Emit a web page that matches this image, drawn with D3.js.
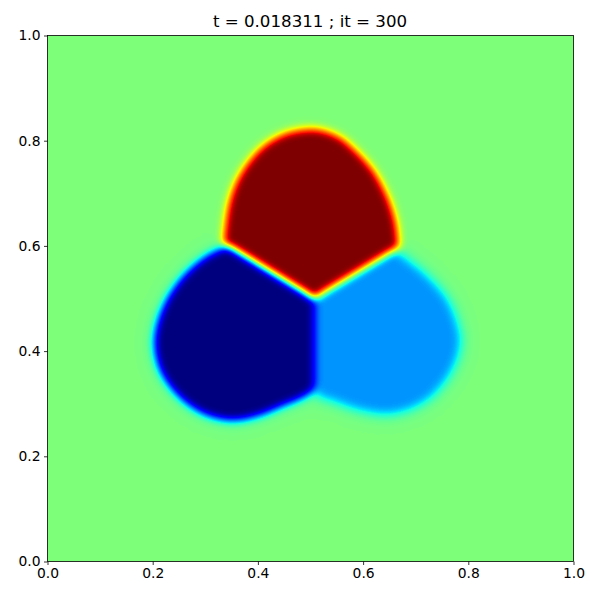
<!DOCTYPE html>
<html><head><meta charset="utf-8">
<script src="https://cdn.jsdelivr.net/npm/d3@7/dist/d3.min.js"></script>
<style>html,body{margin:0;padding:0;background:#fff}svg{display:block}text{font-family:"DejaVu Sans";fill:#000}</style>
</head><body><svg id="c" width="600" height="600"></svg>
<script>
const titleText = "t = 0.018311 ; it = 300";
const tickValues = [0, 0.2, 0.4, 0.6, 0.8, 1.0];
const fieldBackground = 0.5;
const fieldRed = 1.0;
const fieldBlue = 0.0;
const fieldLightBlue = 0.2725;
const haloBlue = 0.40;
const haloRed = 0.60;
const redArc = [[.3340,.6060],[.3352,.6135],[.3384,.642],[.3447,.680],[.3574,.718],[.3796,.756],[.408,.7877],[.443,.810],[.481,.8205],[.519,.8205],[.557,.8056],[.5888,.778],[.6204,.742],[.6470,.6926],[.6616,.648],[.666,.6198],[.6680,.598]];
const redEdge = [[.525,.512],[.5063,.499],[.488,.512]];
const blueArc = [[.3290,.5945],[.2972,.5770],[.2592,.5437],[.2276,.4994],[.2086,.4519],[.2034,.4139],[.2116,.3694],[.2338,.3314],[.2656,.2998],[.3036,.2776],[.3542,.268],[.3987,.2760],[.4493,.2965],[.4937,.3160],[.5075,.3283]];
const blueEdge = [[.5075,.4899],[.5075,.52],[.38,.61]];
const lightBlueArc = [[.6790,.5770],[.7060,.5565],[.7360,.528],[.7610,.4962],[.7770,.4582],[.7850,.4202],[.7770,.3821],[.7567,.3441],[.7281,.3124],[.6901,.2903],[.6521,.2808],[.6141,.2839],[.5760,.2934],[.5413,.3061],[.5158,.3137]];
const lightBlueEdge = [[.47,.40],[.50,.52],[.64,.61]];
// matplotlib "jet" colormap anchors
const jetR = [[0,0],[.35,0],[.66,1],[.89,1],[1,.5]];
const jetG = [[0,0],[.125,0],[.375,1],[.64,1],[.91,0],[1,0]];
const jetB = [[0,.5],[.11,1],[.34,1],[.65,0],[1,0]];

const svg = d3.select("#c");
const x = d3.scaleLinear().domain([0,1]).range([47.5,573.5]);
const y = d3.scaleLinear().domain([0,1]).range([561.5,35.5]);
const gray = v => { const g = Math.round(v*255); return `rgb(${g},${g},${g})`; };
const table = anchors => {
  const s = d3.scaleLinear().domain(anchors.map(a=>a[0])).range(anchors.map(a=>a[1]));
  return d3.range(256).map(i=>s(i/255).toFixed(4)).join(" ");
};
const defs = svg.append("defs");
defs.append("clipPath").attr("id","plot").append("rect")
  .attr("x",x(0)).attr("y",y(1)).attr("width",x(1)-x(0)).attr("height",y(0)-y(1));
const blurFilter = (id, sd) => {
  const flt = defs.append("filter").attr("id",id).attr("filterUnits","userSpaceOnUse")
    .attr("x",0).attr("y",0).attr("width",600).attr("height",600)
    .attr("color-interpolation-filters","sRGB");
  flt.append("feGaussianBlur").attr("stdDeviation",sd).attr("result","b");
  return flt;
};
const f = blurFilter("jetBlur",4);
const ct = f.append("feComponentTransfer").attr("in","b");
ct.append("feFuncR").attr("type","table").attr("tableValues",table(jetR));
ct.append("feFuncG").attr("type","table").attr("tableValues",table(jetG));
ct.append("feFuncB").attr("type","table").attr("tableValues",table(jetB));
blurFilter("soft",2.5);
blurFilter("wide",9);
blurFilter("wideRed",6);

const smooth = d3.line().x(d=>x(d[0])).y(d=>y(d[1])).curve(d3.curveCatmullRom);
const straight = d3.line().x(d=>x(d[0])).y(d=>y(d[1]));
const outline = (arc, edge) => smooth(arc) + "L" + straight(edge).slice(1) + "Z";
const clip = svg.append("g").attr("clip-path","url(#plot)");
const field = clip.append("g").attr("filter","url(#jetBlur)");
field.append("rect").attr("x",0).attr("y",0).attr("width",600).attr("height",600).attr("fill",gray(fieldBackground));
field.append("path").attr("d",outline(lightBlueArc,lightBlueEdge)).attr("fill",gray(haloBlue)).attr("filter","url(#wide)");
field.append("path").attr("d",outline(blueArc,blueEdge)).attr("fill",gray(haloBlue)).attr("filter","url(#wide)");
field.append("path").attr("d",outline(redArc,redEdge)).attr("fill",gray(haloRed)).attr("filter","url(#wideRed)");
field.append("path").attr("d",outline(lightBlueArc,lightBlueEdge)).attr("fill",gray(fieldLightBlue)).attr("filter","url(#soft)");
field.append("path").attr("d",outline(blueArc,blueEdge)).attr("fill",gray(fieldBlue));
field.append("path").attr("d",outline(redArc,redEdge)).attr("fill",gray(fieldRed));

const fmt = d3.format(".1f");
const gx = svg.append("g").attr("transform",`translate(0,${y(0)})`)
  .call(d3.axisBottom(x).tickValues(tickValues).tickFormat(fmt).tickSize(3.5).tickPadding(3.5));
const gy = svg.append("g").attr("transform",`translate(${x(0)},0)`)
  .call(d3.axisLeft(y).tickValues(tickValues).tickFormat(fmt).tickSize(3.5).tickPadding(3.5));
[gx,gy].forEach(g=>{
  g.select(".domain").remove();
  g.attr("font-family",null).attr("font-size",null);
  g.selectAll("line").attr("stroke","#000").attr("stroke-width",0.8);
  g.selectAll("text").style("font-size","13.89px");
});
svg.append("rect").attr("x",x(0)).attr("y",y(1)).attr("width",x(1)-x(0)).attr("height",y(0)-y(1))
  .attr("fill","none").attr("stroke","#000").attr("stroke-width",0.8);
svg.append("text").attr("x",(x(0)+x(1))/2-0.5).attr("y",27).attr("text-anchor","middle")
  .style("font-size","16.67px").text(titleText);
</script></body></html>
